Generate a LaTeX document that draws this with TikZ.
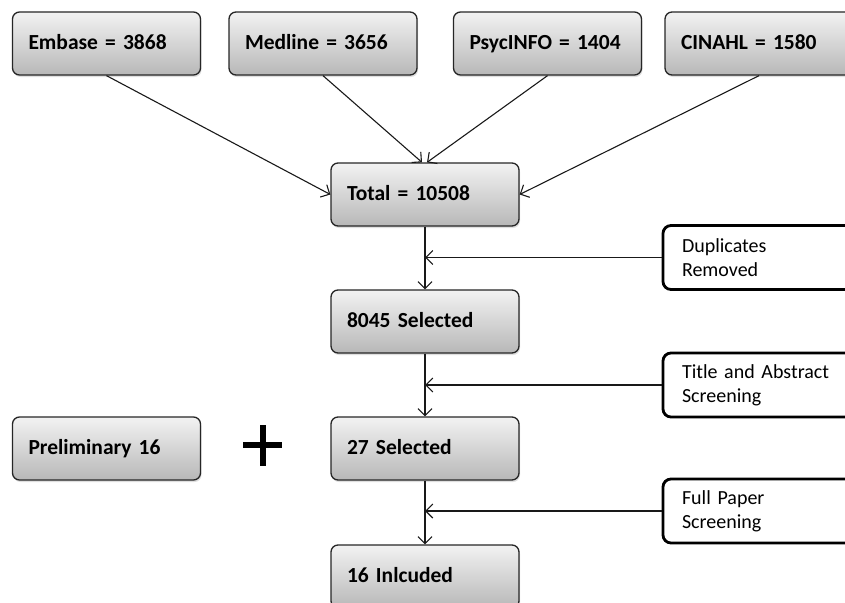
\documentclass[tikz,border=0pt]{standalone}
\usepackage{fontspec}
\setmainfont{Carlito}
\usetikzlibrary{arrows.meta,shadows}
\begin{document}
\begin{tikzpicture}[x=1pt,y=-1pt,
  mainbox/.style={draw=black!85, line width=1.3pt, rounded corners=7pt,
    top color=black!5, bottom color=black!28,
    drop shadow={opacity=0.25, shadow xshift=1pt, shadow yshift=-2pt},
    minimum height=63pt, text width=156pt, inner xsep=16pt, align=left,
    text height=15pt, text depth=4pt,
    font=\fontsize{21.5}{25}\selectfont\bfseries},
  sidebox/.style={draw=black, line width=2.8pt, rounded corners=8pt, fill=white,
    minimum height=64pt, text width=180pt, inner xsep=19pt, align=left,
    font=\fontsize{20}{24}\selectfont},
  conn/.style={line width=1.1pt, draw=black!90},
  arr/.style={conn, -{Straight Barb[length=7pt,width=14pt,line width=1.1pt]}}
]
\useasboundingbox (0,0) rectangle (845,602);
\clip (0,0) rectangle (845,602);

\node[mainbox] (emb) at (106.5,43.5) {Embase = 3868};
\node[mainbox] (med) at (323,43.5) {Medline = 3656};
\node[mainbox] (psy) at (547.5,43.5) {PsycINFO = 1404};
\node[mainbox] (cin) at (759,43.5) {CINAHL = 1580};

\node[mainbox] (tot) at (425,194.5) {Total = 10508};
\node[mainbox] (sel1) at (425,321.5) {8045 Selected};
\node[mainbox] (sel2) at (425,448.5) {27 Selected};
\node[mainbox] (inc) at (425,576.5) {16 Inlcuded};
\node[mainbox] (pre) at (106.5,448.5) {Preliminary 16};

\node[sidebox] (dup) at (772,257.5) {Duplicates\\Removed};
\node[sidebox] (tas) at (772,385) {Title and Abstract\\Screening};
\node[sidebox] (fps) at (772,511) {Full Paper\\Screening};

\draw[line width=6pt] (243,445) -- (282,445) (262.5,425) -- (262.5,466);

\draw[arr] (emb.south) -- (tot.west);
\draw[arr] (med.south) -- ([xshift=-3pt]tot.north);
\draw[arr] (psy.south) -- ([xshift=2pt]tot.north);
\draw[arr] (cin.south) -- (tot.east);

\draw[arr] (tot.south) -- (sel1.north);
\draw[arr] (sel1.south) -- (sel2.north);
\draw[arr] (sel2.south) -- (inc.north);

\draw[arr] (dup.west) -- (dup.west -| tot.south);
\draw[arr] (tas.west) -- (tas.west -| sel1.south);
\draw[arr] (fps.west) -- (fps.west -| sel2.south);
\end{tikzpicture}
\end{document}
